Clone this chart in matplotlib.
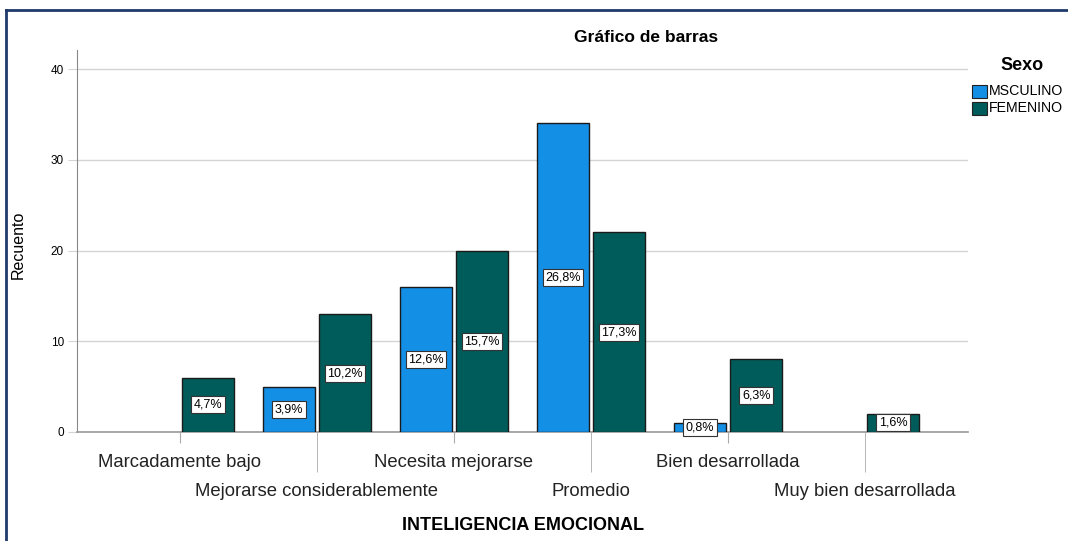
import matplotlib
matplotlib.use("Agg")
import matplotlib.pyplot as plt
from matplotlib.patches import Rectangle
from matplotlib.lines import Line2D
import numpy as np

categories = ["Marcadamente bajo", "Mejorarse considerablemente", "Necesita mejorarse",
              "Promedio", "Bien desarrollada", "Muy bien desarrollada"]
masculino = [0, 5, 16, 34, 1, 0]
femenino = [6, 13, 20, 22, 8, 2]
pct_masc = ["", "3,9%", "12,6%", "26,8%", "0,8%", ""]
pct_fem = ["4,7%", "10,2%", "15,7%", "17,3%", "6,3%", "1,6%"]
series_names = ["MSCULINO", "FEMENINO"]
yticks = [0, 10, 20, 30, 40]

c_masc = "#148fe6"
c_fem = "#005c5a"

plt.rcParams['font.family'] = ['Liberation Sans', 'DejaVu Sans']

W, H = 1068, 541
fig = plt.figure(figsize=(W / 100, H / 100), dpi=100)
ax = fig.add_axes([77 / W, 1 - 432 / H, (968 - 77) / W, (432 - 50) / H])

x = np.arange(len(categories))
bw = 0.38
off = 0.205
lw_m = [1.0 if v > 0 else 0 for v in masculino]
lw_f = [1.0 if v > 0 else 0 for v in femenino]
ax.bar(x - off, masculino, bw, color=c_masc, edgecolor="#1a1a1a", linewidth=lw_m, zorder=3)
ax.bar(x + off, femenino, bw, color=c_fem, edgecolor="#1a1a1a", linewidth=lw_f, zorder=3)

box = dict(boxstyle="square,pad=0.2", facecolor="white", edgecolor="#333333", linewidth=0.8)
for i in range(len(categories)):
    if pct_masc[i]:
        ax.text(x[i] - off, masculino[i] / 2, pct_masc[i], ha="center", va="center",
                fontsize=9, bbox=box, zorder=5)
    if pct_fem[i]:
        ax.text(x[i] + off, femenino[i] / 2, pct_fem[i], ha="center", va="center",
                fontsize=9, bbox=box, zorder=5)

ax.set_xlim(-0.75, 5.75)
ax.set_ylim(0, 42.1)
ax.set_yticks(yticks)
ax.set_yticklabels([str(v) for v in yticks], fontsize=8.5)
ax.yaxis.grid(True, color="#d4d4d4", linewidth=1, zorder=0)
ax.set_axisbelow(True)
ax.tick_params(axis="y", length=6.5, color="#d4d4d4", pad=3)

ax.set_xticks(x[0::2])
ax.set_xticklabels(categories[0::2], fontsize=13.3, color="#222222")
ax.set_xticks(x[1::2], minor=True)
ax.set_xticklabels(categories[1::2], minor=True, fontsize=13.3, color="#222222")
ax.tick_params(axis="x", which="major", length=8, color="#aaaaaa", pad=8)
ax.tick_params(axis="x", which="minor", length=29, color="#aaaaaa", pad=7.5)

for s in ["top", "right"]:
    ax.spines[s].set_visible(False)
ax.spines["left"].set_color("#888888")
ax.spines["bottom"].set_color("#999999")
ax.spines["bottom"].set_linewidth(1.2)

ax.set_ylabel("Recuento", fontsize=11.5)
ax.yaxis.set_label_coords(-0.057, 0.49)
ax.set_xlabel("INTELIGENCIA EMOCIONAL", fontsize=13, fontweight="bold")
ax.xaxis.set_label_coords(0.5, -0.222)

fig.text(646 / W, 1 - 37 / H, "Gráfico de barras", ha="center", va="center",
         fontsize=12.5, fontweight="bold")

# legend
fig.text(1022 / W, 1 - 66 / H, "Sexo", ha="center", va="center", fontsize=13, fontweight="bold")
for k, (name, col) in enumerate(zip(series_names, [c_masc, c_fem])):
    yc = 91 + k * 16.5
    fig.patches.append(Rectangle((972 / W, 1 - (yc + 7) / H), 15 / W, 13 / H,
                                 transform=fig.transFigure, facecolor=col,
                                 edgecolor="#222222", linewidth=0.8))
    fig.text(989 / W, 1 - yc / H, name, ha="left", va="center", fontsize=10.2)

# outer border
fig.add_artist(Line2D([6 / W, 1], [1 - 10 / H, 1 - 10 / H], transform=fig.transFigure,
                      color="#1f3a6b", linewidth=2))
fig.add_artist(Line2D([6 / W, 6 / W], [0, 1 - 10 / H], transform=fig.transFigure,
                      color="#1f3a6b", linewidth=2))

fig.savefig("out.png", dpi=100)
